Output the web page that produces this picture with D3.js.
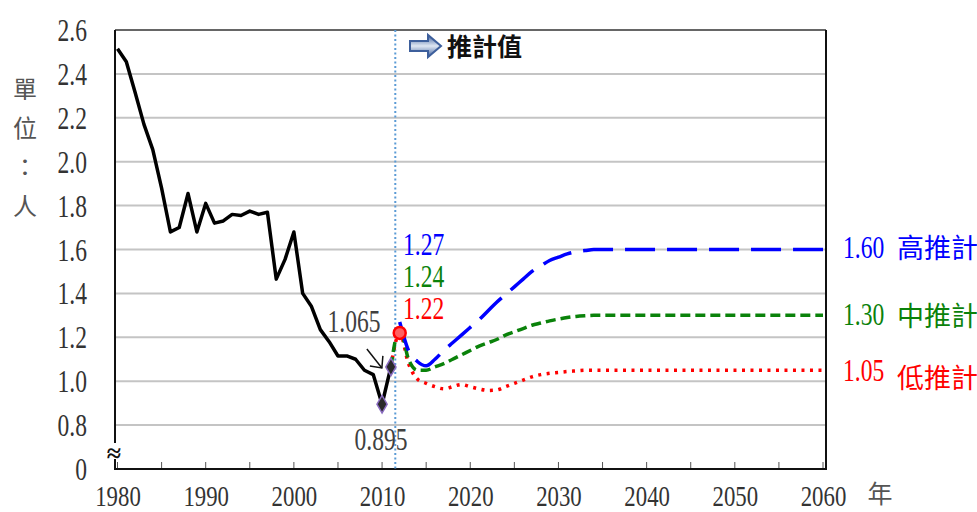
<!DOCTYPE html>
<html>
<head>
<meta charset="utf-8">
<script src="https://cdn.jsdelivr.net/npm/d3@7"></script>
<style>
  html, body { margin: 0; padding: 0; background: #fff; }
  svg { display: block; }
</style>
</head>
<body>
<div id="chart"></div>
<script>
// historical total fertility rate
const histYears = [1980, 1981, 1982, 1983, 1984, 1985, 1986, 1987, 1988, 1989,
  1990, 1991, 1992, 1993, 1994, 1995, 1996, 1997, 1998, 1999,
  2000, 2001, 2002, 2003, 2004, 2005, 2006, 2007, 2008, 2009, 2010, 2011];
const histValues = [2.515, 2.455, 2.315, 2.17, 2.055, 1.88, 1.68, 1.70, 1.855, 1.68,
  1.81, 1.72, 1.73, 1.76, 1.755, 1.775, 1.76, 1.77, 1.465, 1.555,
  1.68, 1.40, 1.34, 1.235, 1.18, 1.115, 1.115, 1.10, 1.05, 1.03, 0.895, 1.065];

// projections (high / medium / low)
const projYears = [2011, 2012, 2013, 2014, 2015, 2016, 2017, 2018, 2019, 2020,
  2021, 2022, 2023, 2024, 2025, 2026, 2027, 2028, 2029, 2030,
  2031, 2032, 2033, 2034, 2035, 2036, 2040, 2045, 2050, 2055, 2060];
const highValues = [null, 1.27, 1.14, 1.09, 1.07, 1.10, 1.14, 1.175, 1.21, 1.245,
  1.28, 1.32, 1.36, 1.395, 1.43, 1.465, 1.50, 1.525, 1.55, 1.565,
  1.58, 1.59, 1.595, 1.60, 1.60, 1.60, 1.60, 1.60, 1.60, 1.60, 1.60];
const midValues = [1.065, 1.24, 1.10, 1.05, 1.05, 1.065, 1.08, 1.10, 1.12, 1.14,
  1.16, 1.175, 1.19, 1.21, 1.225, 1.24, 1.255, 1.265, 1.275, 1.283,
  1.29, 1.295, 1.298, 1.30, 1.30, 1.30, 1.30, 1.30, 1.30, 1.30, 1.30];
const lowValues = [1.065, 1.22, 1.08, 1.01, 0.99, 0.975, 0.965, 0.975, 0.985, 0.975,
  0.965, 0.958, 0.96, 0.975, 0.99, 1.005, 1.02, 1.03, 1.036, 1.04,
  1.044, 1.047, 1.05, 1.05, 1.05, 1.05, 1.05, 1.05, 1.05, 1.05, 1.05];

const yTickValues = [0.6, 0.8, 1.0, 1.2, 1.4, 1.6, 1.8, 2.0, 2.2, 2.4, 2.6];
const yTickLabels = ['0', '0.8', '1.0', '1.2', '1.4', '1.6', '1.8', '2.0', '2.2', '2.4', '2.6'];
const xTickValues = [1980, 1990, 2000, 2010, 2020, 2030, 2040, 2050, 2060];

const width = 977;
const height = 512;
const plotLeft = 115, plotRight = 826, plotTop = 30, plotBottom = 469;

const numFont = '"Liberation Serif", "Times New Roman", serif';
const cjkFont = '"Noto Sans CJK TC", "Noto Sans CJK SC", sans-serif';
const squeeze = 0.76;   // the numbers in the original are narrow

const svg = d3.select('#chart').append('svg')
  .attr('width', width)
  .attr('height', height);

const x = d3.scaleLinear().domain([1980, 2060]).range([117.5, 823]);
const y = d3.scaleLinear().domain([0.6, 2.6]).range([plotBottom, plotTop]);

// gridlines
svg.append('g')
  .selectAll('line')
  .data(yTickValues.filter(v => v > 0.7 && v < 2.5))
  .enter()
  .append('line')
  .attr('x1', plotLeft).attr('x2', plotRight)
  .attr('y1', d => y(d)).attr('y2', d => y(d))
  .attr('stroke', '#c4c4c4')
  .attr('stroke-width', 2);

// y axis labels
const yAxis = svg.append('g')
  .attr('transform', `translate(${plotLeft},0)`)
  .call(d3.axisLeft(y).tickValues(yTickValues).tickSize(0)
    .tickFormat((d, i) => yTickLabels[i]));
yAxis.select('.domain').remove();
yAxis.selectAll('text')
  .attr('x', 0)
  .attr('dy', '0.34em')
  .attr('transform', `translate(-28,0) scale(${squeeze},1)`)
  .attr('font-family', numFont)
  .attr('font-size', 31)
  .attr('fill', '#333');

// x axis labels
const xAxis = svg.append('g')
  .attr('transform', `translate(0,${plotBottom})`)
  .call(d3.axisBottom(x).tickValues(xTickValues).tickSize(0).tickPadding(16)
    .tickFormat(d3.format('d')));
xAxis.select('.domain').remove();
xAxis.selectAll('text')
  .attr('transform', `scale(${squeeze},1)`)
  .attr('font-family', numFont)
  .attr('font-size', 30)
  .attr('fill', '#333');

// small tick marks every 5 years
svg.append('g')
  .selectAll('line')
  .data(x.ticks(16))
  .enter()
  .append('line')
  .attr('x1', d => x(d)).attr('x2', d => x(d))
  .attr('y1', plotBottom).attr('y2', plotBottom - 7)
  .attr('stroke', '#555')
  .attr('stroke-width', 1);

// frame
svg.append('line').attr('x1', plotLeft).attr('x2', plotRight).attr('y1', plotTop).attr('y2', plotTop)
  .attr('stroke', '#333').attr('stroke-width', 1.5);
svg.append('line').attr('x1', plotRight).attr('x2', plotRight).attr('y1', plotTop).attr('y2', plotBottom + 1)
  .attr('stroke', '#111').attr('stroke-width', 2);
svg.append('line').attr('x1', plotLeft).attr('x2', plotRight + 1).attr('y1', plotBottom).attr('y2', plotBottom)
  .attr('stroke', '#111').attr('stroke-width', 2);
svg.append('line').attr('x1', plotLeft).attr('x2', plotLeft).attr('y1', plotTop).attr('y2', 443)
  .attr('stroke', '#111').attr('stroke-width', 2);
svg.append('line').attr('x1', plotLeft).attr('x2', plotLeft).attr('y1', 459).attr('y2', plotBottom + 1)
  .attr('stroke', '#111').attr('stroke-width', 2);
svg.append('text')
  .attr('x', 114).attr('y', 462)
  .attr('text-anchor', 'middle')
  .attr('font-family', numFont)
  .attr('font-size', 26)
  .attr('font-weight', 'bold')
  .attr('fill', '#111')
  .text('≈');

// projection start divider
const divX = x(2011.5);
svg.append('line')
  .attr('x1', divX).attr('x2', divX)
  .attr('y1', plotTop).attr('y2', plotBottom)
  .attr('stroke', '#5b9bd5')
  .attr('stroke-width', 2)
  .attr('stroke-dasharray', '2,2.5');

const line = d3.line()
  .defined(d => d[1] != null)
  .x(d => x(d[0]))
  .y(d => y(d[1]));

const smooth = d3.line()
  .defined(d => d[1] != null)
  .curve(d3.curveMonotoneX)
  .x(d => x(d[0]))
  .y(d => y(d[1]));

const series = [
  { values: lowValues, color: '#ff0000', dash: '3,5.5', width: 3.5 },
  { values: midValues, color: '#0a820a', dash: '10,5', width: 3.5 },
  { values: highValues, color: '#0000ff', dash: '30,12', width: 3.5 }
];

svg.append('g')
  .selectAll('path')
  .data(series)
  .enter()
  .append('path')
  .attr('d', s => smooth(projYears.map((yr, i) => [yr, s.values[i]])))
  .attr('fill', 'none')
  .attr('stroke', s => s.color)
  .attr('stroke-width', s => s.width)
  .attr('stroke-dasharray', s => s.dash);

// historical line
svg.append('path')
  .attr('d', line(histYears.map((yr, i) => [yr, histValues[i]])))
  .attr('fill', 'none')
  .attr('stroke', '#000')
  .attr('stroke-width', 3.5)
  .attr('stroke-linejoin', 'round');

// markers on 2010 and 2011
const lastTwo = histYears.slice(-2).map((yr, i) => [yr, histValues.slice(-2)[i]]);
svg.append('g')
  .selectAll('path')
  .data(lastTwo)
  .enter()
  .append('path')
  .attr('d', d3.symbol(d3.symbolDiamond, 90))
  .attr('transform', d => `translate(${x(d[0])},${y(d[1])})`)
  .attr('fill', '#2a2a2a')
  .attr('stroke', '#8a6cc0')
  .attr('stroke-width', 1.5);

// 2012 marker
svg.append('circle')
  .attr('cx', x(projYears[1]))
  .attr('cy', y(lowValues[1]))
  .attr('r', 6)
  .attr('fill', '#ff6060')
  .attr('stroke', '#ff0000')
  .attr('stroke-width', 2.5);

// value annotations
function numLabel(px, py, str, color, anchor) {
  svg.append('text')
    .attr('transform', `translate(${px},${py}) scale(${squeeze},1)`)
    .attr('text-anchor', anchor || 'start')
    .attr('font-family', numFont)
    .attr('font-size', 31)
    .attr('fill', color)
    .text(str);
}

numLabel(354, 332, '1.065', '#404040', 'middle');
numLabel(381, 450, '0.895', '#404040', 'middle');
numLabel(403, 255, '1.27', '#0000ff');
numLabel(403, 287, '1.24', '#0a820a');
numLabel(403, 319, '1.22', '#ff0000');

// arrow pointing to the 2011 value
const tip = [x(2011) - 9, y(1.065) + 1];
svg.append('line')
  .attr('x1', tip[0] - 15).attr('y1', tip[1] - 19)
  .attr('x2', tip[0]).attr('y2', tip[1])
  .attr('stroke', '#111').attr('stroke-width', 1.5);
svg.append('polyline')
  .attr('points', [[tip[0] - 12, tip[1] - 2], tip, [tip[0] + 1, tip[1] - 12]].map(p => p.join(',')).join(' '))
  .attr('fill', 'none')
  .attr('stroke', '#111').attr('stroke-width', 1.5);

// right-hand end labels (run off the right edge, as in the original)
const endLabels = [
  { num: '1.60', name: '高推計', color: '#0000ff', y: 258, cy: 258 },
  { num: '1.30', name: '中推計', color: '#0a820a', y: 325, cy: 326 },
  { num: '1.05', name: '低推計', color: '#ff0000', y: 381, cy: 388 }
];
endLabels.forEach(d => {
  numLabel(843, d.y, d.num, d.color);
  svg.append('text')
    .attr('x', 897).attr('y', d.cy)
    .attr('font-family', cjkFont)
    .attr('font-size', 27)
    .attr('fill', d.color)
    .text(d.name);
});

// header arrow + text
const arrow = svg.append('g').attr('transform', 'translate(409,46)');
const grad = svg.append('defs').append('linearGradient')
  .attr('id', 'arrowGrad').attr('x1', 0).attr('x2', 0).attr('y1', 0).attr('y2', 1);
grad.append('stop').attr('offset', '0%').attr('stop-color', '#3d5f9c');
grad.append('stop').attr('offset', '50%').attr('stop-color', '#dfe7f3');
grad.append('stop').attr('offset', '100%').attr('stop-color', '#3d5f9c');
arrow.append('path')
  .attr('d', 'M1,-5 L19,-5 L19,-11 L32,0 L19,11 L19,5 L1,5 Z')
  .attr('fill', 'url(#arrowGrad)')
  .attr('stroke', '#3d5f9c')
  .attr('stroke-width', 2);
svg.append('text')
  .attr('x', 447).attr('y', 56)
  .attr('font-family', cjkFont)
  .attr('font-size', 25)
  .attr('font-weight', 'bold')
  .attr('fill', '#111')
  .text('推計值');

// y unit title, vertical
const unitChars = ['單', '位', '：', '人'];
svg.append('g')
  .selectAll('text')
  .data(unitChars)
  .enter()
  .append('text')
  .attr('x', 25)
  .attr('y', (d, i) => 98 + i * 39)
  .attr('text-anchor', 'middle')
  .attr('font-family', cjkFont)
  .attr('font-size', 24)
  .attr('fill', '#555')
  .text(d => d);

svg.append('text')
  .attr('x', 880).attr('y', 503)
  .attr('text-anchor', 'middle')
  .attr('font-family', cjkFont)
  .attr('font-size', 25)
  .attr('fill', '#555')
  .text('年');
</script>
</body>
</html>
